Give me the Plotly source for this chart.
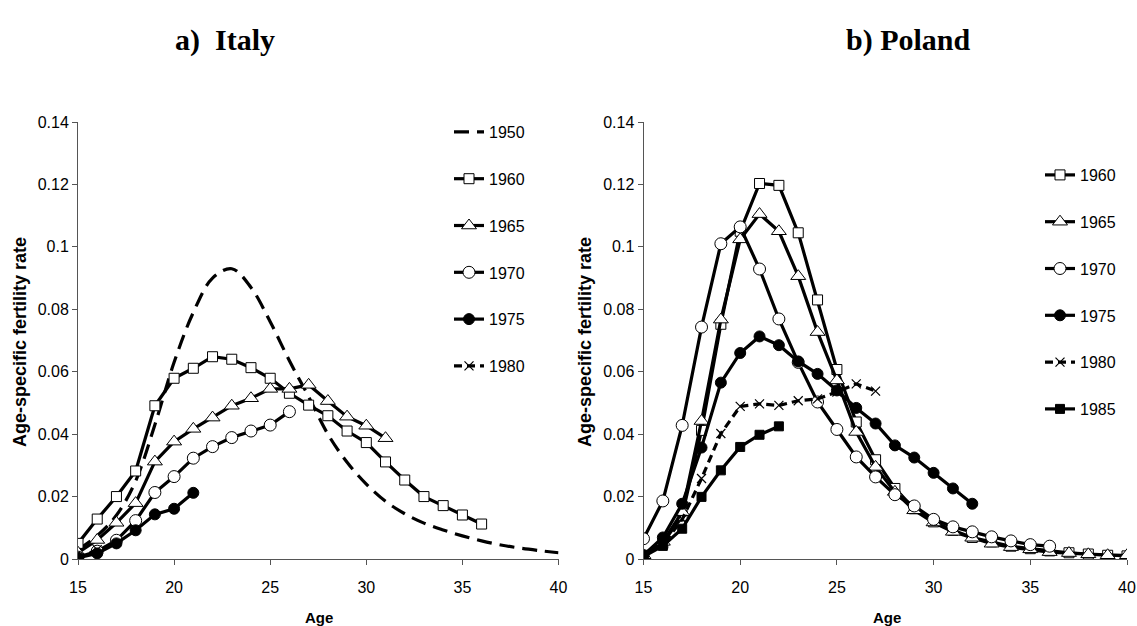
import plotly.graph_objects as go

# Age-specific fertility rates by birth cohort
italy_1950_age = list(range(15, 41))
italy_1950 = [0.0030, 0.0075, 0.0140, 0.0250, 0.0430, 0.0630, 0.0790, 0.0900, 0.0930,
              0.0870, 0.0760, 0.0635, 0.0520, 0.0400, 0.0310, 0.0240, 0.0185, 0.0145,
              0.0115, 0.0093, 0.0074, 0.0058, 0.0045, 0.0035, 0.0027, 0.0020]
italy_1960_age = list(range(15, 37))
italy_1960 = [0.0050, 0.0128, 0.0200, 0.0282, 0.0491, 0.0579, 0.0611, 0.0648, 0.0640,
              0.0613, 0.0579, 0.0531, 0.0493, 0.0459, 0.0410, 0.0373, 0.0311, 0.0253,
              0.0200, 0.0171, 0.0141, 0.0112]
italy_1965_age = list(range(15, 32))
italy_1965 = [0.0020, 0.0061, 0.0116, 0.0179, 0.0312, 0.0376, 0.0417, 0.0453, 0.0491,
              0.0515, 0.0545, 0.0545, 0.0558, 0.0506, 0.0456, 0.0427, 0.0387]
italy_1970_age = list(range(15, 27))
italy_1970 = [0.0006, 0.0025, 0.0060, 0.0123, 0.0213, 0.0264, 0.0323, 0.0360, 0.0389,
              0.0410, 0.0429, 0.0472]
italy_1975_age = list(range(15, 22))
italy_1975 = [0.0004, 0.0018, 0.0050, 0.0092, 0.0143, 0.0161, 0.0212]
italy_1980_age = [15, 16]
italy_1980 = [0.0002, 0.0030]

poland_1960_age = list(range(15, 41))
poland_1960 = [0.0012, 0.0050, 0.0140, 0.0412, 0.0752, 0.1050, 0.1203, 0.1197, 0.1045,
               0.0830, 0.0607, 0.0439, 0.0318, 0.0226, 0.0161, 0.0119, 0.0092, 0.0069,
               0.0055, 0.0041, 0.0033, 0.0026, 0.0020, 0.0016, 0.0012, 0.0010]
poland_1965_age = list(range(15, 41))
poland_1965 = [0.0012, 0.0055, 0.0150, 0.0442, 0.0767, 0.1024, 0.1105, 0.1050, 0.0906,
               0.0727, 0.0572, 0.0407, 0.0295, 0.0215, 0.0156, 0.0117, 0.0087, 0.0068,
               0.0049, 0.0038, 0.0031, 0.0022, 0.0019, 0.0015, 0.0012, 0.0012]
poland_1970_age = list(range(15, 37))
poland_1970 = [0.0065, 0.0186, 0.0428, 0.0743, 0.1010, 0.1064, 0.0929, 0.0769, 0.0630,
               0.0503, 0.0415, 0.0327, 0.0263, 0.0206, 0.0170, 0.0127, 0.0103, 0.0087,
               0.0071, 0.0058, 0.0046, 0.0041]
poland_1975_age = list(range(15, 33))
poland_1975 = [0.0012, 0.0069, 0.0177, 0.0357, 0.0565, 0.0660, 0.0713, 0.0685, 0.0633,
               0.0593, 0.0540, 0.0484, 0.0434, 0.0364, 0.0325, 0.0276, 0.0226, 0.0177]
poland_1980_age = list(range(15, 28))
poland_1980 = [0.0010, 0.0045, 0.0127, 0.0258, 0.0402, 0.0489, 0.0497, 0.0492, 0.0507,
               0.0513, 0.0535, 0.0561, 0.0538]
poland_1985_age = list(range(15, 23))
poland_1985 = [0.0008, 0.0042, 0.0097, 0.0199, 0.0284, 0.0359, 0.0398, 0.0425]

y_ticks = [0, 0.02, 0.04, 0.06, 0.08, 0.1, 0.12, 0.14]
x_ticks = [15, 20, 25, 30, 35, 40]

SANS = "Liberation Sans, Arial, sans-serif"
SERIF = "Liberation Serif, Times New Roman, serif"
LW = 3.2

# marker styles per cohort
styles = {
    "1950": dict(mode="lines", dash="15px,8px", marker=None, shape="spline"),
    "1960": dict(mode="lines+markers", dash="solid",
                 marker=dict(symbol="square", size=10, color="white",
                             line=dict(color="black", width=1))),
    "1965": dict(mode="lines+markers", dash="solid",
                 marker=dict(symbol="triangle-up", size=13, color="white",
                             line=dict(color="black", width=1))),
    "1970": dict(mode="lines+markers", dash="solid",
                 marker=dict(symbol="circle", size=12, color="white",
                             line=dict(color="black", width=1))),
    "1975": dict(mode="lines+markers", dash="solid",
                 marker=dict(symbol="circle", size=11, color="black",
                             line=dict(color="black", width=1))),
    "1980": dict(mode="lines+markers", dash="8px,5px",
                 marker=dict(symbol="x-thin-open", size=9, color="black",
                             line=dict(color="black", width=1.2))),
    "1985": dict(mode="lines+markers", dash="solid",
                 marker=dict(symbol="square", size=9, color="black",
                             line=dict(color="black", width=1))),
}

fig = go.Figure()


def add(ages, vals, label, axis, legend):
    st = styles[label]
    kw = dict(x=ages, y=vals, name=label, mode=st["mode"],
              line=dict(color="black", width=LW, dash=st["dash"],
                        shape=st.get("shape", "linear")),
              xaxis="x" if axis == 1 else "x2", yaxis="y" if axis == 1 else "y2",
              legend=legend, legendgroup=legend + label, hoverinfo="x+y+name")
    if st["marker"] is not None:
        kw["marker"] = st["marker"]
    fig.add_trace(go.Scatter(**kw))


add(italy_1950_age, italy_1950, "1950", 1, "legend")
add(italy_1960_age, italy_1960, "1960", 1, "legend")
add(italy_1965_age, italy_1965, "1965", 1, "legend")
add(italy_1970_age, italy_1970, "1970", 1, "legend")
add(italy_1975_age, italy_1975, "1975", 1, "legend")
add(italy_1980_age, italy_1980, "1980", 1, "legend")

add(poland_1960_age, poland_1960, "1960", 2, "legend2")
add(poland_1965_age, poland_1965, "1965", 2, "legend2")
add(poland_1970_age, poland_1970, "1970", 2, "legend2")
add(poland_1975_age, poland_1975, "1975", 2, "legend2")
add(poland_1980_age, poland_1980, "1980", 2, "legend2")
add(poland_1985_age, poland_1985, "1985", 2, "legend2")

W, H = 1137, 626


def px_x(p):
    return p / W


def px_y(p):
    return 1 - p / H


axis_common = dict(showgrid=False, zeroline=False, showline=True, linecolor="#555",
                   linewidth=1, ticks="outside", ticklen=5, tickcolor="#555",
                   automargin=False,
                   tickfont=dict(family=SANS, size=16, color="black"))


def label(text, x, y, size, family=SANS, angle=0):
    return dict(text=text, x=px_x(x), y=px_y(y), xref="paper", yref="paper",
                xanchor="center", yanchor="middle", showarrow=False, textangle=angle,
                font=dict(family=family, size=size, color="black"))


fig.update_layout(
    width=W, height=H,
    margin=dict(l=0, r=0, t=0, b=0, pad=0),
    paper_bgcolor="white", plot_bgcolor="white",
    showlegend=True,
    xaxis=dict(domain=[px_x(78), px_x(558.5)], range=[15, 40], tickvals=x_ticks,
               anchor="y", ticklabelstandoff=9, **axis_common),
    yaxis=dict(domain=[px_y(559), px_y(122)], range=[0, 0.14], tickvals=y_ticks,
               anchor="x", **axis_common),
    xaxis2=dict(domain=[px_x(643.5), px_x(1127)], range=[15, 40], tickvals=x_ticks,
                anchor="y2", ticklabelstandoff=9, **axis_common),
    yaxis2=dict(domain=[px_y(559), px_y(122)], range=[0, 0.14], tickvals=y_ticks,
                anchor="x2", **axis_common),
    legend=dict(x=px_x(449), y=px_y(115), xanchor="left", yanchor="top",
                font=dict(family=SANS, size=16, color="black"),
                bgcolor="rgba(0,0,0,0)", tracegroupgap=23, itemwidth=30),
    legend2=dict(x=px_x(1040), y=px_y(158), xanchor="left", yanchor="top",
                 font=dict(family=SANS, size=16, color="black"),
                 bgcolor="rgba(0,0,0,0)", tracegroupgap=23, itemwidth=30),
    annotations=[
        label("<b>a)  Italy</b>", 225, 40, 30, SERIF),
        label("<b>b) Poland</b>", 908, 40, 30, SERIF),
        label("<b>Age-specific fertility rate</b>", 20, 342, 18, angle=-90),
        label("<b>Age</b>", 319, 617, 15),
        label("<b>Age-specific fertility rate</b>", 585, 342, 18, angle=-90),
        label("<b>Age</b>", 887, 617, 15),
    ],
)

fig.write_html("out.html")
